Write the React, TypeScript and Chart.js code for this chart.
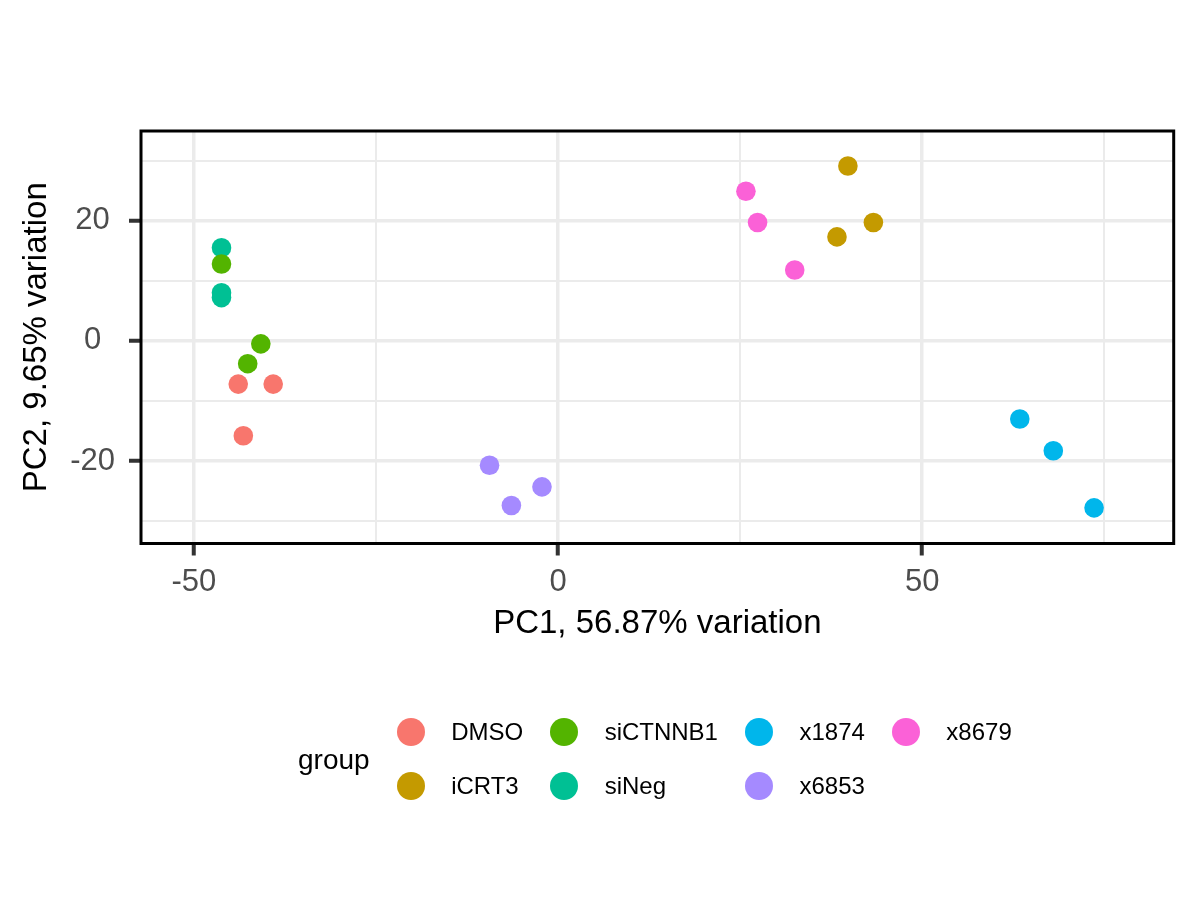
import React, { useEffect, useRef } from 'react';
import { Chart, registerables } from 'chart.js';

Chart.register(...registerables);

// ---- data ----
const groups = ['DMSO', 'iCRT3', 'siCTNNB1', 'siNeg', 'x1874', 'x6853', 'x8679'];
const groupColors = ['#F8766D', '#C49A00', '#53B400', '#00C094', '#00B6EB', '#A58AFF', '#FB61D7'];

const dmsoPC1 = [-43.9, -39.1, -43.2];
const dmsoPC2 = [-7.2, -7.2, -15.8];
const icrt3PC1 = [39.8, 43.3, 38.3];
const icrt3PC2 = [29.1, 19.7, 17.3];
const sictnnb1PC1 = [-46.2, -40.8, -42.6];
const sictnnb1PC2 = [12.8, -0.5, -3.8];
const sinegPC1 = [-46.2, -46.2, -46.2];
const sinegPC2 = [15.5, 8.0, 7.2];
const x1874PC1 = [63.4, 68.0, 73.6];
const x1874PC2 = [-13.0, -18.3, -27.8];
const x6853PC1 = [-9.4, -6.4, -2.2];
const x6853PC2 = [-20.7, -27.4, -24.3];
const x8679PC1 = [25.8, 27.4, 32.5];
const x8679PC2 = [24.9, 19.7, 11.8];

const groupPC1 = [dmsoPC1, icrt3PC1, sictnnb1PC1, sinegPC1, x1874PC1, x6853PC1, x8679PC1];
const groupPC2 = [dmsoPC2, icrt3PC2, sictnnb1PC2, sinegPC2, x1874PC2, x6853PC2, x8679PC2];

const xTickValues = [-50, -25, 0, 25, 50, 75];
const xTickLabels = [-50, 0, 50];
const yTickValues = [-30, -20, -10, 0, 10, 20, 30];
const yTickLabels = [-20, 0, 20];
const xRange = [-57.25, 84.53];
const yRange = [-33.73, 34.93];

const xTitle = 'PC1, 56.87% variation';
const yTitle = 'PC2, 9.65% variation';
const legendTitle = 'group';

const FONT = "'Liberation Sans', Arial, Helvetica, sans-serif";

const panelBorder = {
  id: 'panelBorder',
  afterDraw(chart: any) {
    const { ctx, chartArea } = chart;
    const { left, top, right, bottom } = chartArea;
    ctx.save();
    ctx.strokeStyle = '#000000';
    ctx.lineWidth = 3;
    ctx.strokeRect(left, top, right - left, bottom - top);
    ctx.restore();
  },
};

export default function App() {
  const ref = useRef<HTMLCanvasElement>(null);

  useEffect(() => {
    const canvas = ref.current;
    if (!canvas) return;
    const datasets = groups.map((g, i) => ({
      label: g,
      data: groupPC1[i].map((x, j) => ({ x, y: groupPC2[i][j] })),
      backgroundColor: groupColors[i],
      borderColor: groupColors[i],
      pointRadius: 9.8,
      pointHoverRadius: 9.8,
      pointBorderWidth: 0,
    }));

    const isMajorX = (v: number) => xTickLabels.includes(v);
    const isMajorY = (v: number) => yTickLabels.includes(v);

    const chart = new Chart(canvas, {
      type: 'scatter',
      data: { datasets },
      options: {
        responsive: false,
        animation: false,
        events: [],
        layout: { padding: { left: 0, top: 131, right: 26.3, bottom: 256.7 } },
        plugins: {
          legend: { display: false },
          tooltip: { enabled: false },
        },
        scales: {
          x: {
            type: 'linear',
            min: xRange[0],
            max: xRange[1],
            afterBuildTicks: (s: any) => {
              s.ticks = xTickValues.map((v) => ({ value: v }));
            },
            afterFit: (s: any) => {
              s.height = 99.8;
            },
            border: { display: false },
            grid: {
              color: '#EBEBEB',
              lineWidth: (c: any) => (c.tick && isMajorX(c.tick.value) ? 3.5 : 2),
              tickLength: 12,
              tickWidth: 4,
              tickColor: (c: any) => (c.tick && isMajorX(c.tick.value) ? '#333333' : 'rgba(0,0,0,0)'),
            },
            ticks: {
              autoSkip: false,
              maxRotation: 0,
              padding: 8,
              color: '#4D4D4D',
              font: { family: FONT, size: 31 },
              callback: (v: any) => (isMajorX(Number(v)) ? String(v) : ''),
            },
            title: {
              display: true,
              text: xTitle,
              color: '#000000',
              font: { family: FONT, size: 33 },
              padding: { top: 0, bottom: 0 },
            },
          },
          y: {
            type: 'linear',
            min: yRange[0],
            max: yRange[1],
            afterBuildTicks: (s: any) => {
              s.ticks = yTickValues.map((v) => ({ value: v }));
            },
            afterFit: (s: any) => {
              s.width = 141;
            },
            border: { display: false },
            grid: {
              color: '#EBEBEB',
              lineWidth: (c: any) => (c.tick && isMajorY(c.tick.value) ? 3.5 : 2),
              tickLength: 12,
              tickWidth: 4,
              tickColor: (c: any) => (c.tick && isMajorY(c.tick.value) ? '#333333' : 'rgba(0,0,0,0)'),
            },
            ticks: {
              autoSkip: false,
              padding: 14,
              crossAlign: 'center',
              color: '#4D4D4D',
              font: { family: FONT, size: 31 },
              callback: (v: any) => (isMajorY(Number(v)) ? String(v) : ''),
            },
            title: {
              display: true,
              text: yTitle,
              color: '#000000',
              font: { family: FONT, size: 33 },
              padding: { top: 17.2, bottom: 0 },
            },
          },
        },
      } as any,
      plugins: [panelBorder],
    });
    return () => chart.destroy();
  }, []);

  return (
    <div style={{ position: 'absolute', left: 0, top: 0, width: 1200, height: 900, background: '#ffffff' }}>
      <canvas ref={ref} width={1200} height={900} style={{ width: 1200, height: 900, display: 'block' }} />
      <div
        style={{
          position: 'absolute',
          left: 298,
          top: 704.7,
          display: 'flex',
          alignItems: 'center',
          fontFamily: FONT,
          color: '#000000',
        }}
      >
        <div style={{ fontSize: 28, marginRight: 27, position: 'relative', top: 1 }}>{legendTitle}</div>
        <div
          style={{
            display: 'grid',
            gridAutoFlow: 'column',
            gridTemplateRows: '54px 54px',
            columnGap: 27,
          }}
        >
          {groups.map((g, i) => (
            <div key={g} style={{ display: 'flex', alignItems: 'center', height: 54 }}>
              <div
                style={{
                  width: 28,
                  height: 28,
                  borderRadius: '50%',
                  background: groupColors[i],
                  marginRight: 26.5,
                  flex: '0 0 auto',
                }}
              />
              <span style={{ fontSize: 24, whiteSpace: 'nowrap' }}>{g}</span>
            </div>
          ))}
        </div>
      </div>
    </div>
  );
}
